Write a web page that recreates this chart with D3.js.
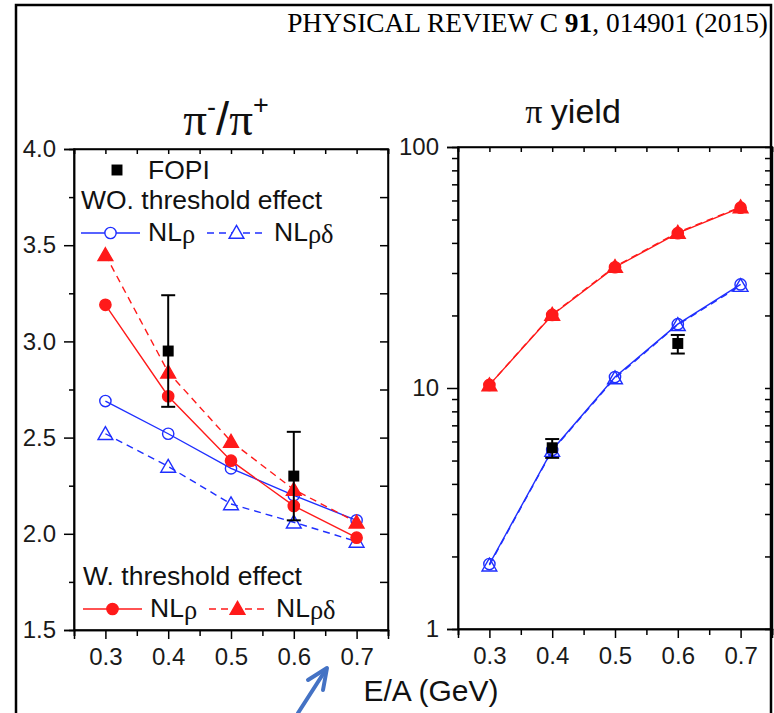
<!DOCTYPE html>
<html>
<head>
<meta charset="utf-8">
<script src="https://cdn.jsdelivr.net/npm/d3@7"></script>
<style>
  html, body { margin: 0; padding: 0; background: #fff; }
  svg { display: block; }
  text { font-family: "Liberation Sans", Arial, sans-serif; fill: #111; }
  .serif { font-family: "Liberation Serif", "Times New Roman", serif; }
</style>
</head>
<body>
<svg id="chart" width="774" height="713"></svg>
<script>
// Beam energies (GeV per nucleon)
const energies = [0.3, 0.4, 0.5, 0.6, 0.7];
const xTicks = [0.3, 0.4, 0.5, 0.6, 0.7];
const xMinor = [0.25, 0.35, 0.45, 0.55, 0.65, 0.75];

// pi-/pi+ ratio
const ratioFopi = [{ e: 0.4, v: 2.95, err: 0.29 }, { e: 0.6, v: 2.30, err: 0.23 }];
const ratioWoNLrho = [2.69, 2.52, 2.34, 2.20, 2.07];
const ratioWoNLrhoDelta = [2.52, 2.35, 2.155, 2.06, 1.96];
const ratioWNLrho = [3.19, 2.715, 2.38, 2.145, 1.98];
const ratioWNLrhoDelta = [3.45, 2.84, 2.48, 2.23, 2.06];
const ratioTicks = [1.5, 2.0, 2.5, 3.0, 3.5, 4.0];

// pion yield
const yieldFopi = [{ e: 0.4, v: 5.65, lo: 5.13, hi: 6.14 }, { e: 0.6, v: 15.3, lo: 13.9, hi: 16.6 }];
const yieldWoNLrho = [1.86, 5.53, 11.1, 18.4, 26.9];
const yieldWoNLrhoDelta = [1.84, 5.50, 11.0, 18.3, 26.6];
const yieldWNLrho = [10.3, 20.1, 31.7, 43.9, 56.0];
const yieldWNLrhoDelta = [10.3, 20.2, 31.9, 44.2, 56.4];
const yieldTicks = [1, 10, 100];

const svg = d3.select("#chart");
const BLUE = "#1f2fff", RED = "#ff1a1a";
const TICK_FONT = "24px", LEGEND_FONT = "26.5px";

// outer frame
svg.append("path")
  .attr("d", "M16,713 V5 H771 V713")
  .attr("fill", "none").attr("stroke", "#000").attr("stroke-width", 2.5);

// journal header
const hdr = svg.append("text").attr("class", "serif")
  .attr("x", 768).attr("y", 32).attr("text-anchor", "end")
  .style("font-size", "27.4px").style("fill", "#000");
hdr.append("tspan").text("PHYSICAL REVIEW C ");
hdr.append("tspan").style("font-weight", "bold").text("91");
hdr.append("tspan").text(", 014901 (2015)");

// scales
const xL = d3.scaleLinear().domain([0.25, 0.75]).range([74, 388]);
const yL = d3.scaleLinear().domain([1.5, 4.0]).range([630, 149]);
const xR = d3.scaleLinear().domain([0.25, 0.75]).range([458, 772]);
const yR = d3.scaleLog().domain([1, 100]).range([629, 147]);

function styleAxis(g) {
  g.select(".domain").attr("stroke", "#000").attr("stroke-width", 1.5);
  g.selectAll(".tick line").attr("stroke", "#000").attr("stroke-width", 1.5);
  g.selectAll("text").style("font-size", TICK_FONT).style("fill", "#1a1a1a")
    .style("font-family", "Liberation Sans, Arial, sans-serif");
}

function panelFrame(x, y) {
  const [x0, x1] = x.range();
  const [y0, y1] = y.range();
  svg.append("rect")
    .attr("x", x0).attr("y", y1).attr("width", x1 - x0).attr("height", y0 - y1)
    .attr("fill", "none").attr("stroke", "#000").attr("stroke-width", 1.5);
}

function xAxes(x, y) {
  const y0 = y.range()[0], y1 = y.range()[1];
  // bottom: majors with labels, minors without
  svg.append("g").attr("transform", `translate(0,${y0})`)
    .call(d3.axisBottom(x).tickValues(xMinor).tickSize(6).tickFormat(""))
    .call(styleAxis);
  svg.append("g").attr("transform", `translate(0,${y0})`)
    .call(d3.axisBottom(x).tickValues(xTicks).tickSize(9).tickPadding(9).tickFormat(d3.format(".1f")))
    .call(styleAxis);
  // top mirrored inward ticks
  svg.append("g").attr("transform", `translate(0,${y1})`)
    .call(d3.axisBottom(x).tickValues(xTicks.concat(xMinor)).tickSize(5).tickFormat(""))
    .call(styleAxis);
}

// ---------- left panel: pi-/pi+ ----------
panelFrame(xL, yL);
xAxes(xL, yL);
svg.append("g").attr("transform", `translate(${xL.range()[0]},0)`)
  .call(d3.axisLeft(yL).tickValues([1.75, 2.25, 2.75, 3.25, 3.75]).tickSize(5).tickFormat(""))
  .call(styleAxis);
svg.append("g").attr("transform", `translate(${xL.range()[0]},0)`)
  .call(d3.axisLeft(yL).tickValues(ratioTicks).tickSize(10).tickPadding(8).tickFormat(d3.format(".1f")))
  .call(styleAxis);
svg.append("g").attr("transform", `translate(${xL.range()[1]},0)`)
  .call(d3.axisLeft(yL).tickValues(d3.range(1.75, 4.0, 0.25)).tickSize(8).tickFormat(""))
  .call(styleAxis);

// ---------- right panel: pion yield ----------
panelFrame(xR, yR);
xAxes(xR, yR);
const logMinor = [];
[1, 10].forEach(d => { for (let k = 2; k <= 9; k++) logMinor.push(d * k); });
svg.append("g").attr("transform", `translate(${xR.range()[0]},0)`)
  .call(d3.axisLeft(yR).tickValues(logMinor).tickSize(6).tickFormat(""))
  .call(styleAxis);
svg.append("g").attr("transform", `translate(${xR.range()[0]},0)`)
  .call(d3.axisLeft(yR).tickValues(yieldTicks).tickSize(11).tickPadding(8).tickFormat(d3.format("d")))
  .call(styleAxis);
svg.append("g").attr("transform", `translate(${xR.range()[1]},0)`)
  .call(d3.axisLeft(yR).tickValues(logMinor.concat([10])).tickSize(7).tickFormat(""))
  .call(styleAxis);

// ---------- marks ----------
const circleSym = d3.symbol().type(d3.symbolCircle).size(100);
const triSym = d3.symbol().type(d3.symbolTriangle).size(95);
const squareSym = d3.symbol().type(d3.symbolSquare).size(120);

function series(x, y, vals, color, dashed, sym, filled) {
  const pts = energies.map((e, i) => [x(e), y(vals[i])]);
  svg.append("path")
    .attr("d", d3.line()(pts))
    .attr("fill", "none").attr("stroke", color).attr("stroke-width", 1.4)
    .attr("stroke-dasharray", dashed ? "7,5" : null);
  svg.append("g").selectAll("path").data(pts).join("path")
    .attr("transform", d => `translate(${d[0]},${sym === triSym ? d[1] + 1.5 : d[1]})`)
    .attr("d", sym)
    .attr("fill", filled ? color : "#fff")
    .attr("fill-opacity", filled ? 1 : 0)
    .attr("stroke", color).attr("stroke-width", 1.4);
}

function fopi(x, y, data) {
  const g = svg.append("g");
  data.forEach(d => {
    const lo = d.lo !== undefined ? d.lo : d.v - d.err;
    const hi = d.hi !== undefined ? d.hi : d.v + d.err;
    const cx = x(d.e);
    g.append("line").attr("x1", cx).attr("x2", cx).attr("y1", y(lo)).attr("y2", y(hi))
      .attr("stroke", "#000").attr("stroke-width", 2);
    [lo, hi].forEach(b => g.append("line")
      .attr("x1", cx - 7).attr("x2", cx + 7).attr("y1", y(b)).attr("y2", y(b))
      .attr("stroke", "#000").attr("stroke-width", 2));
    g.append("path").attr("transform", `translate(${cx},${y(d.v)})`).attr("d", squareSym).attr("fill", "#000");
  });
}

// left panel curves
series(xL, yL, ratioWoNLrho, BLUE, false, circleSym, false);
series(xL, yL, ratioWoNLrhoDelta, BLUE, true, triSym, false);
series(xL, yL, ratioWNLrho, RED, false, circleSym, true);
series(xL, yL, ratioWNLrhoDelta, RED, true, triSym, true);
fopi(xL, yL, ratioFopi);

// right panel curves
series(xR, yR, yieldWNLrho, RED, false, circleSym, true);
series(xR, yR, yieldWNLrhoDelta, RED, true, triSym, true);
series(xR, yR, yieldWoNLrho, BLUE, false, circleSym, false);
series(xR, yR, yieldWoNLrhoDelta, BLUE, true, triSym, false);
fopi(xR, yR, yieldFopi);

// ---------- legend ----------
function legendLabel(x, y, main, greek) {
  const t = svg.append("text").attr("x", x).attr("y", y).style("font-size", LEGEND_FONT);
  t.append("tspan").text(main);
  t.append("tspan").attr("class", "serif").attr("dy", 2).style("font-size", LEGEND_FONT).text(greek);
}
function legendEntry(x0, x1, y, color, dashed, sym, filled) {
  svg.append("line").attr("x1", x0).attr("x2", x1).attr("y1", y).attr("y2", y)
    .attr("stroke", color).attr("stroke-width", 1.4).attr("stroke-dasharray", dashed ? "7,5" : null);
  svg.append("path").attr("transform", `translate(${(x0 + x1) / 2},${sym === triSym ? y + 1 : y})`)
    .attr("d", sym).attr("fill", filled ? color : "#fff")
    .attr("stroke", color).attr("stroke-width", 1.4);
}

svg.append("path").attr("transform", "translate(117,170)").attr("d", squareSym).attr("fill", "#000");
svg.append("text").attr("x", 148).attr("y", 179).style("font-size", LEGEND_FONT).text("FOPI");
svg.append("text").attr("x", 81).attr("y", 209).style("font-size", LEGEND_FONT).text("WO. threshold effect");
legendEntry(81, 140, 233, BLUE, false, circleSym, false);
legendLabel(148, 241, "NL", "ρ");
legendEntry(207, 266, 233, BLUE, true, triSym, false);
legendLabel(274, 241, "NL", "ρδ");

svg.append("text").attr("x", 83).attr("y", 585).style("font-size", LEGEND_FONT).text("W. threshold effect");
legendEntry(83, 142, 609, RED, false, circleSym, true);
legendLabel(150, 617, "NL", "ρ");
legendEntry(209, 266, 609, RED, true, triSym, true);
legendLabel(276, 617, "NL", "ρδ");

// ---------- titles ----------
const t1 = svg.append("text").attr("x", 226).attr("y", 135).attr("text-anchor", "middle")
  .style("font-size", "47px");
t1.append("tspan").attr("class", "serif").text("π");
t1.append("tspan").attr("dy", -19).style("font-size", "27px").text("-");
t1.append("tspan").attr("dy", 19).text("/");
t1.append("tspan").attr("class", "serif").text("π");
t1.append("tspan").attr("dy", -21).style("font-size", "27px").text("+");

const t2 = svg.append("text").attr("x", 573).attr("y", 123).attr("text-anchor", "middle")
  .style("font-size", "34px");
t2.append("tspan").attr("class", "serif").text("π ");
t2.append("tspan").text("yield");

svg.append("text").attr("x", 431).attr("y", 701).attr("text-anchor", "middle")
  .style("font-size", "30px").text("E/A (GeV)");

// ---------- pointer arrow ----------
const arrowColor = "#4472c4";
svg.append("line").attr("x1", 298).attr("y1", 713).attr("x2", 325).attr("y2", 671)
  .attr("stroke", arrowColor).attr("stroke-width", 4).attr("stroke-linecap", "round");
svg.append("path").attr("d", "M308,680 L327,668 L323,690")
  .attr("fill", "none").attr("stroke", arrowColor).attr("stroke-width", 4)
  .attr("stroke-linecap", "round").attr("stroke-linejoin", "round");
</script>
</body>
</html>
